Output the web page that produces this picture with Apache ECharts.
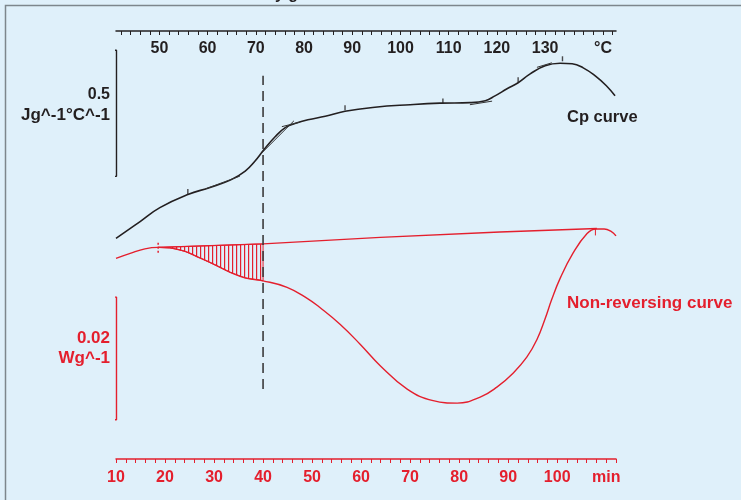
<!DOCTYPE html>
<html><head><meta charset="utf-8">
<script src="https://cdn.jsdelivr.net/npm/echarts@6/dist/echarts.min.js"></script>
<style>html,body{margin:0;padding:0;background:#dff0fa;}#c{width:741px;height:500px;}</style>
</head><body><div id="c"></div>
<script>
// ---- axes ----
const tempTickLabels = [50, 60, 70, 80, 90, 100, 110, 120, 130];
const tempUnit = '°C';
const timeTickLabels = [10, 20, 30, 40, 50, 60, 70, 80, 90, 100];
const timeUnit = 'min';

// ---- Cp curve (x: °C, y: J g^-1 °C^-1) ----
const cpTemp  = [41.0, 46.0, 50.1, 55.9, 60.5, 64.7, 67.8, 69.8, 71.7, 74.0, 76.1, 78.1, 80.8, 84.4, 88.5, 94.7, 102.0, 108.2, 114.4, 117.6, 119.6, 122.1, 124.4, 126.9, 130.0, 133.1, 135.6, 137.9, 140.4, 142.7, 144.5];
const cpValue = [0.874, 0.941, 0.996, 1.048, 1.076, 1.105, 1.141, 1.180, 1.226, 1.277, 1.313, 1.329, 1.344, 1.358, 1.378, 1.394, 1.404, 1.410, 1.412, 1.420, 1.439, 1.467, 1.491, 1.526, 1.558, 1.568, 1.566, 1.550, 1.518, 1.479, 1.439];
// short tangent construction lines drawn over the Cp curve (pairs of [°C, Cp])
const cpTangents = [
  [59.5, 1.070], [66.7, 1.121], null,
  [71.3, 1.214], [77.9, 1.340], null,
  [75.4, 1.317], [79.2, 1.335], null,
  [114.4, 1.404], [119.0, 1.418], null,
  [128.3, 1.552], [131.4, 1.570]
];
const cpMarkTemp  = [55.9, 88.5, 108.8, 124.4, 133.6];
const cpMarkValue = [1.052, 1.384, 1.411, 1.495, 1.578];

// ---- Non-reversing curve (x: min, y: W g^-1) ----
const nrTime = [10.0, 12.9, 15.9, 18.6, 21.0, 24.1, 27.1, 30.2, 33.3, 36.3, 40.0, 44.9, 49.0, 51.6, 55.7, 59.8, 63.9, 69.4, 74.7, 79.6, 84.3, 87.7, 91.0, 93.8, 95.9, 97.5, 98.9, 100.6, 103.2, 106.1, 107.9, 109.6, 111.0, 112.0];
const nrFlow = [0.03272, 0.03353, 0.03427, 0.03451, 0.03443, 0.03386, 0.03280, 0.03166, 0.03044, 0.02955, 0.02906, 0.02800, 0.02620, 0.02470, 0.02198, 0.01872, 0.01522, 0.01140, 0.00952, 0.00912, 0.01009, 0.01172, 0.01400, 0.01660, 0.01953, 0.02279, 0.02604, 0.02946, 0.03353, 0.03679, 0.03752, 0.03752, 0.03712, 0.03638];
// construction baseline of the non-reversing curve
const baseTime = [18.6, 40.0, 63.9, 88.3, 108.1];
const baseFlow = [0.03451, 0.03508, 0.03614, 0.03703, 0.03760];
// vertical marks on the non-reversing curve
const nrStartMark = [[18.6, 0.03365], [18.6, 0.03537]];
const nrEndMark   = [[107.8, 0.03646], [107.8, 0.03760]];
// dashed reference line at 40 min
const refTime = 40;
const refFlow = [0.0114, 0.0625];
// scale bars
const cpBar = [1.12, 1.62];      // 0.5 J g^-1 °C^-1
const hfBar = [0.0064, 0.0264];  // 0.02 W g^-1

const RED = '#e41f2d', INK = '#231f20', FONT = '"Liberation Sans", Arial, sans-serif';
const zip = (a, b) => a.map((v, i) => [v, b[i]]);
const range = (a, b, s) => { const r = []; for (let v = a; v <= b + 1e-9; v += s) r.push(v); return r; };

// hatched area polygon (between baseline and curve, up to 40 min)
const hatchPoly = [[baseTime[0], baseFlow[0]]]
  .concat(zip(nrTime, nrFlow).filter(p => p[0] > baseTime[0] && p[0] <= refTime))
  .concat([[baseTime[1], baseFlow[1]]]);

const pat = document.createElement('canvas');
pat.width = 4; pat.height = 4;
const pg = pat.getContext('2d');
pg.fillStyle = RED; pg.fillRect(0, 0, 1.2, 4);

const chart = echarts.init(document.getElementById('c'));
chart.setOption({
  backgroundColor: '#dff0fa',
  animation: false,
  grid: { left: 116, right: 125, top: 31, bottom: 41 },
  xAxis: [
    { type: 'value', position: 'bottom', min: 10, max: 112,
      splitLine: { show: false },
      axisLine: { onZero: false, lineStyle: { color: RED, width: 1.5 } },
      axisTick: { length: 4, lineStyle: { color: RED, width: 1 }, customValues: range(10, 112, 2) },
      axisLabel: { margin: 11, color: RED, fontSize: 16, fontWeight: 'bold', fontFamily: FONT,
        customValues: timeTickLabels.concat([110]),
        formatter: v => (v === 110 ? timeUnit : String(v)) } },
    { type: 'value', position: 'top', min: 41, max: 144.7,
      splitLine: { show: false },
      axisLine: { onZero: false, lineStyle: { color: INK, width: 1.5 } },
      axisTick: { inside: true, length: 4, lineStyle: { color: INK, width: 1 }, customValues: range(42, 144, 2) },
      axisLabel: { inside: true, margin: 10, color: INK, fontSize: 16, fontWeight: 'bold', fontFamily: FONT,
        customValues: tempTickLabels.concat([142]),
        formatter: v => (v === 142 ? tempUnit : String(v)) } }
  ],
  yAxis: [
    { type: 'value', min: 0, max: 1.696, show: false, splitLine: { show: false } },
    { type: 'value', min: 0, max: 0.0698, show: false, splitLine: { show: false } }
  ],
  series: [
    { type: 'custom', xAxisIndex: 0, yAxisIndex: 1, silent: true, z: 1, data: hatchPoly,
      renderItem: (params, api) => {
        if (params.dataIndex !== 0) return;
        const pts = hatchPoly.map(p => api.coord(p));
        return { type: 'polygon', shape: { points: pts },
          style: { fill: { image: pat, repeat: 'repeat' }, stroke: RED, lineWidth: 1 } };
      } },
    { type: 'line', xAxisIndex: 0, yAxisIndex: 1, data: zip(baseTime, baseFlow), showSymbol: false,
      lineStyle: { color: RED, width: 1.4 }, z: 3 },
    { type: 'line', xAxisIndex: 0, yAxisIndex: 1, data: zip(nrTime, nrFlow), showSymbol: false, smooth: 0.45,
      lineStyle: { color: RED, width: 1.4 }, z: 3 },
    { type: 'line', xAxisIndex: 0, yAxisIndex: 1, data: nrStartMark, showSymbol: false,
      lineStyle: { color: RED, width: 1.5, type: [2, 2] }, z: 4 },
    { type: 'line', xAxisIndex: 0, yAxisIndex: 1, data: nrEndMark, showSymbol: false,
      lineStyle: { color: RED, width: 1 }, z: 4 },
    { type: 'line', xAxisIndex: 1, yAxisIndex: 0, data: zip(cpTemp, cpValue), showSymbol: false, smooth: 0.45,
      lineStyle: { color: INK, width: 1.6 }, z: 5 },
    { type: 'line', xAxisIndex: 1, yAxisIndex: 0, data: cpTangents, showSymbol: false, connectNulls: false,
      lineStyle: { color: '#333', width: 1 }, z: 5 },
    { type: 'scatter', xAxisIndex: 1, yAxisIndex: 0, data: zip(cpMarkTemp, cpMarkValue),
      symbol: 'rect', symbolSize: [1.4, 5], symbolOffset: [0, -2], itemStyle: { color: INK }, z: 6 },
    { type: 'line', xAxisIndex: 0, yAxisIndex: 1, data: refFlow.map(v => [refTime, v]), showSymbol: false,
      lineStyle: { color: '#3a3a3a', width: 1.6, type: [10, 6] }, z: 6 },
    { type: 'line', xAxisIndex: 0, yAxisIndex: 0, clip: false, showSymbol: false,
      data: [[9.3, cpBar[1]], [10.1, cpBar[1]], [10.1, cpBar[0]], [9.3, cpBar[0]]],
      lineStyle: { color: INK, width: 1.4 } },
    { type: 'line', xAxisIndex: 0, yAxisIndex: 1, clip: false, showSymbol: false,
      data: [[9.3, hfBar[1]], [10.1, hfBar[1]], [10.1, hfBar[0]], [9.3, hfBar[0]]],
      lineStyle: { color: RED, width: 1.4 } }
  ],
  graphic: [
    { type: 'polyline', shape: { points: [[5.5, 500], [5.5, 5.5], [741, 5.5]] },
      style: { stroke: '#7d868c', lineWidth: 1.5, fill: null }, silent: true },
    { type: 'text', x: 275, y: 3, style: { text: 'y g', align: 'left', verticalAlign: 'bottom',
      font: 'bold 16px ' + FONT, fill: INK } },
    { type: 'text', x: 110, y: 95, style: { text: '0.5', align: 'right', verticalAlign: 'middle',
      font: 'bold 16px ' + FONT, fill: INK } },
    { type: 'text', x: 110, y: 115, style: { text: 'Jg^-1°C^-1', align: 'right', verticalAlign: 'middle',
      font: 'bold 17px ' + FONT, fill: INK } },
    { type: 'text', x: 110, y: 338, style: { text: '0.02', align: 'right', verticalAlign: 'middle',
      font: 'bold 17px ' + FONT, fill: RED } },
    { type: 'text', x: 110, y: 358, style: { text: 'Wg^-1', align: 'right', verticalAlign: 'middle',
      font: 'bold 17px ' + FONT, fill: RED } },
    { type: 'text', x: 567, y: 117, style: { text: 'Cp curve', align: 'left', verticalAlign: 'middle',
      font: '600 16.5px ' + FONT, fill: INK } },
    { type: 'text', x: 567, y: 303, style: { text: 'Non-reversing curve', align: 'left', verticalAlign: 'middle',
      font: 'bold 17px ' + FONT, fill: RED } }
  ]
});
</script></body></html>
